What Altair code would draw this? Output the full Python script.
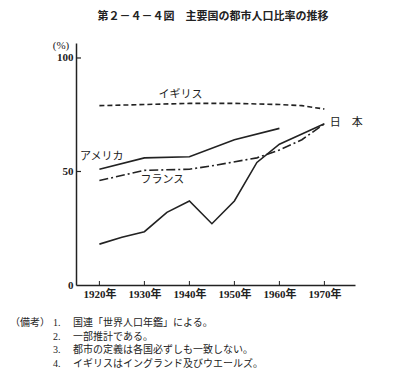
import altair as alt
import pandas as pd

# ---- data ----
japan_years = [1920, 1925, 1930, 1935, 1940, 1945, 1950, 1955, 1960, 1965, 1970]
japan_vals = [18, 21, 23.5, 32, 37, 27, 37, 54, 62, 66.5, 71]
usa_years = [1920, 1930, 1940, 1950, 1960]
usa_vals = [51, 56, 56.5, 64, 69]
france_years = [1920, 1930, 1940, 1945, 1955, 1960, 1965, 1970]
france_vals = [46, 50.5, 51, 52.5, 56, 59.5, 64, 71]
uk_years = [1920, 1930, 1940, 1950, 1960, 1965, 1970]
uk_vals = [79, 79.5, 80, 80, 79.5, 79, 77.5]

label_names = ["イギリス", "アメリカ", "フランス", "日　本"]
label_years = [1938, 1920.5, 1934, 1971.2]
label_vals = [83.7, 56.4, 46.3, 71.2]
label_align = ["center", "center", "center", "left"]

x_ticks = [1920, 1930, 1940, 1950, 1960, 1970]
y_ticks = [0, 50, 100]

title_text = "第２－４－４図　主要国の都市人口比率の推移"
note_head = "（備考）"
note_nums = ["1.", "2.", "3.", "4."]
note_texts = [
    "国連「世界人口年鑑」による。",
    "一部推計である。",
    "都市の定義は各国必ずしも一致しない。",
    "イギリスはイングランド及びウエールズ。",
]

W, H = 279, 242
X0, Y0 = 76, 43
JP = "Noto Sans CJK JP"
SERIF = "Liberation Serif, Noto Sans CJK JP"
INK = "#222222"

def series(name, years, vals):
    return pd.DataFrame({"series": name, "year": years, "value": vals})

xs = alt.Scale(domain=[1914.8, 1976.8], nice=False, zero=False)
ys = alt.Scale(domain=[0, 106.6], nice=False)

def line_layer(df, dash):
    kw = dict(color=INK, strokeWidth=1.6)
    if dash:
        kw["strokeDash"] = dash
    return alt.Chart(df).mark_line(**kw).encode(
        x=alt.X("year:Q", scale=xs,
                axis=alt.Axis(values=x_ticks, labelExpr="datum.value + '年'",
                              title=None, grid=False, ticks=False,
                              domainColor=INK, domainWidth=1.5,
                              labelFont=SERIF, labelFontSize=11, labelFontWeight="bold",
                              labelColor=INK, labelPadding=3)),
        y=alt.Y("value:Q", scale=ys,
                axis=alt.Axis(values=y_ticks, title=None, grid=False, ticks=False,
                              domainColor=INK, domainWidth=1.5,
                              labelFont=SERIF, labelFontSize=11, labelFontWeight="bold",
                              labelColor=INK, labelPadding=3)),
    )

layers = [
    line_layer(series("uk", uk_years, uk_vals), [5, 3]),
    line_layer(series("usa", usa_years, usa_vals), None),
    line_layer(series("france", france_years, france_vals), [9, 3, 2, 3]),
    line_layer(series("japan", japan_years, japan_vals), None),
]

# inward tick marks
ytick_df = pd.DataFrame({"value": [50, 100]})
layers.append(alt.Chart(ytick_df).mark_rule(color=INK, strokeWidth=1.2).encode(
    y=alt.Y("value:Q", scale=ys), x=alt.value(0), x2=alt.value(5)))
xtick_df = pd.DataFrame({"year": x_ticks})
layers.append(alt.Chart(xtick_df).mark_rule(color=INK, strokeWidth=1).encode(
    x=alt.X("year:Q", scale=xs), y=alt.value(H), y2=alt.value(H - 4)))

# series labels
lab_df = pd.DataFrame({"name": label_names, "year": label_years,
                       "value": label_vals, "align": label_align})
for al in ["center", "left"]:
    sub = lab_df[lab_df["align"] == al]
    layers.append(alt.Chart(sub).mark_text(font=JP, fontSize=11, color=INK, align=al,
                                           baseline="middle").encode(
        x=alt.X("year:Q", scale=xs), y=alt.Y("value:Q", scale=ys), text="name:N"))

# title, unit and notes
def txt(t, x, y, size=10, weight="normal", align="left", font=JP):
    return alt.Chart(pd.DataFrame({"t": [t]})).mark_text(
        font=font, fontSize=size, fontWeight=weight, color=INK, align=align,
        baseline="middle").encode(text="t:N", x=alt.value(x), y=alt.value(y))

layers.append(txt(title_text, 213 - X0, 17 - Y0, size=11, weight="bold", align="center"))
layers.append(txt("(%)", 61 - X0, 46 - Y0, size=11, align="center", font=SERIF))
layers.append(txt(note_head, 10 - X0, 323 - Y0, size=10))
for i, (n, t) in enumerate(zip(note_nums, note_texts)):
    yy = 323 + i * 13.5 - Y0
    layers.append(txt(n, 53 - X0, yy, size=10, font=SERIF))
    layers.append(txt(t, 73 - X0, yy, size=10))

chart = alt.layer(*layers).properties(
    width=W, height=H,
    autosize=alt.AutoSizeParams(type="none"),
    padding={"left": X0 - 8, "top": Y0 - 8, "right": 28, "bottom": 88},
    background="white",
).configure_view(stroke=None)

chart.save("out.html", embed_options={"renderer": "svg", "actions": False})
